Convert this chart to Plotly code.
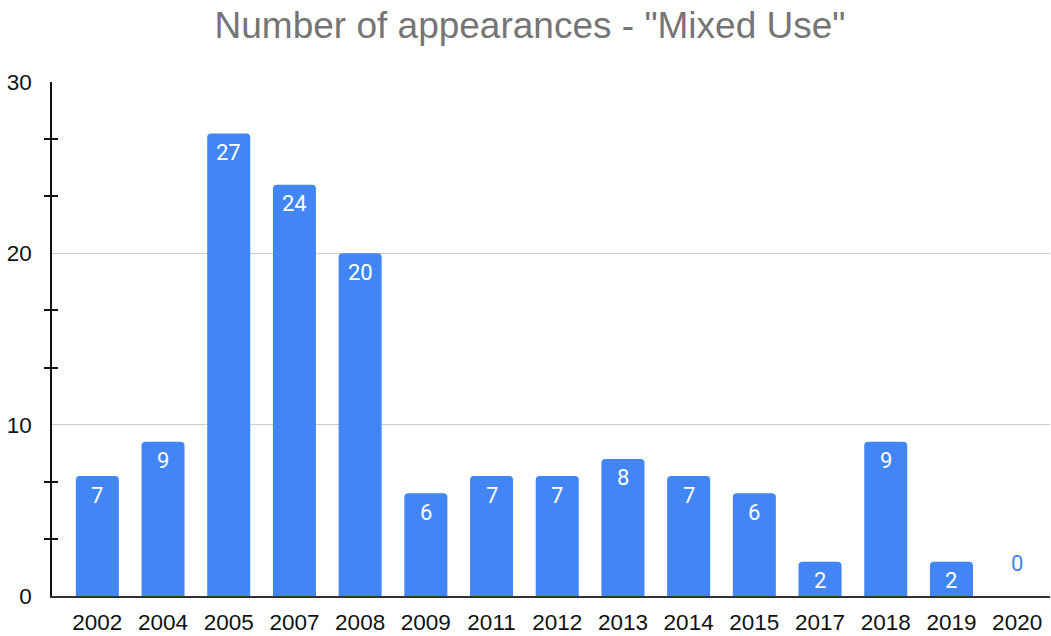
import plotly.graph_objects as go

# Appearances of "Mixed Use" per year
years = ["2002", "2004", "2005", "2007", "2008", "2009", "2011", "2012",
         "2013", "2014", "2015", "2017", "2018", "2019", "2020"]
counts = [7, 9, 27, 24, 20, 6, 7, 7, 8, 7, 6, 2, 9, 2, 0]

# Axis scale: labelled ticks every 10, two minor ticks between each pair
y_max = 30
major_step = 10
minor_per_major = 3

BLUE = "#4285F4"
AXIS_FONT = "Liberation Sans, Arial, sans-serif"
LABEL_FONT = "Roboto, Liberation Sans, sans-serif"

major_vals = list(range(0, y_max + 1, major_step))
minor_vals = [k * major_step / minor_per_major
              for k in range(y_max // major_step * minor_per_major + 1)
              if k % minor_per_major != 0]

fig = go.Figure()
fig.add_trace(go.Bar(
    x=list(range(len(years))),
    y=counts,
    marker=dict(color=BLUE, cornerradius=4, line=dict(width=0)),
    hoverinfo="skip",
))

# Value labels: white inside the bar top, blue just above the baseline for zero
annotations = []
for i, v in enumerate(counts):
    if v > 0:
        annotations.append(dict(x=i, y=v, text=str(v), showarrow=False,
                                yshift=-19, font=dict(color="white", size=22, family=LABEL_FONT)))
    else:
        annotations.append(dict(x=i, y=v, text=str(v), showarrow=False,
                                yshift=33, font=dict(color=BLUE, size=22, family=LABEL_FONT)))

fig.update_layout(
    width=1051, height=636,
    margin=dict(l=52, r=1, t=82, b=36),
    paper_bgcolor="white", plot_bgcolor="white",
    bargap=0.345,
    showlegend=False,
    title=dict(text='Number of appearances - "Mixed Use"', x=530 / 1051, xref="container",
               xanchor="center", y=1 - 25 / 636, yanchor="middle",
               font=dict(family=AXIS_FONT, size=37, color="#757575")),
    annotations=annotations,
    xaxis=dict(
        range=[-0.69, 14.5],
        tickmode="array", tickvals=list(range(len(years))), ticktext=years,
        tickfont=dict(family=AXIS_FONT, size=22.5, color="#111111"),
        showgrid=False, zeroline=False,
        showline=True, linecolor="#333333", linewidth=1.5,
        ticks="", ticklabelstandoff=5,
    ),
    yaxis=dict(
        range=[0, y_max], tickmode="array", tickvals=major_vals,
        tickfont=dict(family=AXIS_FONT, size=22.5, color="#111111"),
        showgrid=True, gridcolor="#cccccc", gridwidth=1,
        zeroline=False,
        showline=True, linecolor="#111111", linewidth=1.5,
        ticks="", ticklabelstandoff=14,
        minor=dict(tickmode="array", tickvals=minor_vals, ticks="outside", ticklen=6,
                   tickcolor="#111111", tickwidth=1.5, showgrid=False),
    ),
    yaxis2=dict(
        range=[0, y_max], overlaying="y", side="left", anchor="x",
        showticklabels=False, showgrid=False, zeroline=False, showline=False,
        tickmode="array", tickvals=minor_vals, ticks="inside", ticklen=6,
        tickcolor="#111111", tickwidth=1.5,
    ),
)
# Invisible trace so the overlay axis (inner half of the minor ticks) is drawn
fig.add_trace(go.Scatter(x=[0], y=[0], yaxis="y2", mode="markers",
                         marker=dict(opacity=0), hoverinfo="skip"))

fig.write_html("out.html")
